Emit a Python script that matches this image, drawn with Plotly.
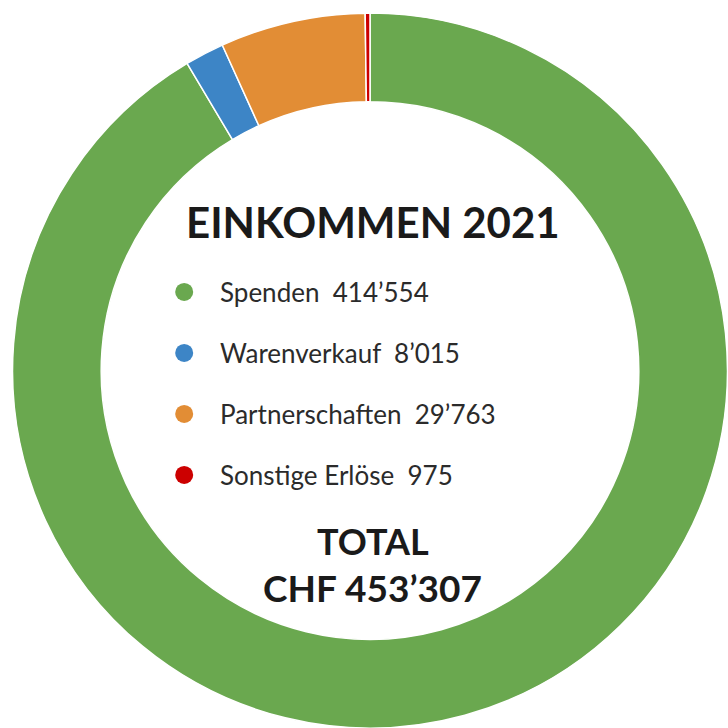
import plotly.graph_objects as go

# ---- data ----
categories = ["Spenden", "Warenverkauf", "Partnerschaften", "Sonstige Erlöse"]
values = [414554, 8015, 29763, 975]
colors = ["#6aa84f", "#3d85c6", "#e28d35", "#cc0000"]
title_text = "EINKOMMEN 2021"
total_label = "TOTAL"
currency = "CHF"


def fmt(v):
    return f"{v:,}".replace(",", "\u2019")


total = sum(values)

fig = go.Figure()

fig.add_trace(go.Pie(
    labels=categories,
    values=values,
    marker=dict(colors=colors, line=dict(color="white", width=1.5)),
    hole=0.752,
    sort=False,
    direction="clockwise",
    rotation=0,
    textinfo="none",
    hoverinfo="skip",
    showlegend=False,
    domain=dict(x=[12 / 728, 1.0], y=[0.0, 0.982]),
))

# legend rows inside the hole
row_top = 0.599
row_step = 0.0838
dot_x = 0.253
text_x = 0.2995
row_y = [row_top - i * row_step for i in range(len(categories))]

fig.add_trace(go.Scatter(
    x=[dot_x] * len(categories),
    y=row_y,
    mode="markers",
    marker=dict(size=18, color=colors, line=dict(width=0)),
    hoverinfo="skip",
    showlegend=False,
    xaxis="x", yaxis="y",
))

annotations = []
for cat, v, y in zip(categories, values, row_y):
    annotations.append(dict(
        x=text_x, y=y, xref="paper", yref="paper",
        text=f"{cat}&nbsp;&nbsp;{fmt(v)}",
        showarrow=False, xanchor="left", yanchor="middle",
        font=dict(family="Lato", size=26, color="#2b2b2b"),
    ))

annotations.append(dict(
    x=0.512, y=0.695, xref="paper", yref="paper",
    text=f"<b>{title_text}</b>", showarrow=False,
    xanchor="center", yanchor="middle",
    font=dict(family="Lato", size=42, color="#1a1a1a", weight=900),
))
total_split = 0.2253
annotations.append(dict(
    x=0.512, y=total_split, xref="paper", yref="paper",
    text=f"<b>{total_label}</b>", showarrow=False,
    xanchor="center", yanchor="bottom", borderpad=0,
    font=dict(family="Lato", size=36, color="#1a1a1a", weight=900),
))
annotations.append(dict(
    x=0.512, y=total_split, xref="paper", yref="paper",
    text=f"<b>{currency} {fmt(total)}</b>", showarrow=False,
    xanchor="center", yanchor="top", borderpad=0,
    font=dict(family="Lato", size=37, color="#1a1a1a", weight=900),
))

fig.update_layout(
    width=728, height=728,
    margin=dict(l=0, r=0, t=0, b=0),
    paper_bgcolor="white", plot_bgcolor="rgba(0,0,0,0)",
    xaxis=dict(range=[0, 1], visible=False, fixedrange=True, domain=[0, 1]),
    yaxis=dict(range=[0, 1], visible=False, fixedrange=True, domain=[0, 1]),
    annotations=annotations,
    showlegend=False,
)

fig.write_html(
    "out.html",
    config={"displayModeBar": False},
    post_script="document.body.style.margin='0';document.body.style.overflow='hidden';",
)
